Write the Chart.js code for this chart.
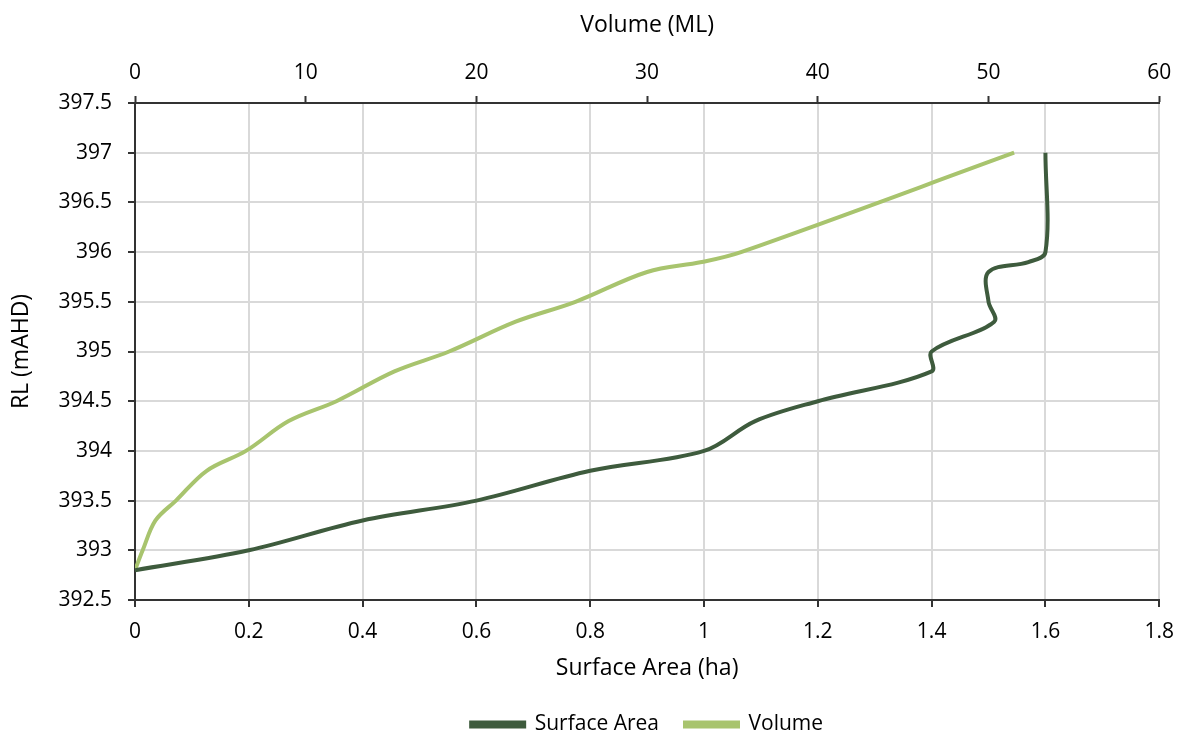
<!DOCTYPE html>
<html>
<head>
<meta charset="utf-8">
<script src="https://cdn.jsdelivr.net/npm/chart.js@4/dist/chart.umd.min.js"></script>
<style>
    html, body { margin: 0; padding: 0; background: #ffffff; }
    canvas { display: block; }
</style>
</head>
<body>
<canvas id="storageChart" width="1186" height="737"></canvas>
<script>
// ==========================================
// DATA
// ==========================================
const rlLevels    = [392.8, 393.0, 393.3, 393.5, 393.8, 394.0, 394.3, 394.5, 394.8, 395.0, 395.3, 395.5, 395.8, 395.9, 396.0, 397.0];
const surfaceArea = [0, 0.2, 0.4, 0.6, 0.8, 1.0, 1.09, 1.2, 1.4, 1.4, 1.51, 1.5, 1.5, 1.57, 1.6, 1.6];
const volume      = [0, 0.45, 1.2, 2.4, 4.2, 6.5, 9.0, 11.8, 15.2, 18.4, 22.3, 25.8, 30.0, 33.2, 35.5, 51.5];

const seriesNames = ['Surface Area', 'Volume'];
const seriesColors = ['#3e5b3d', '#a8c46e'];

const FONT = '"Open Sans", "Noto Sans", sans-serif';

const toPoints = (xs) => xs.map((x, i) => ({ x: x, y: rlLevels[i] }));
// drop trailing zeros the way the original axis labels do (397 not 397.0)
const plainLabel = (value) => String(Number(value.toFixed(2)));

// ==========================================
// CHART
// ==========================================
const ctx = document.getElementById('storageChart').getContext('2d');

new Chart(ctx, {
    type: 'line',
    data: {
        datasets: [
            {
                label: seriesNames[0],
                data: toPoints(surfaceArea),
                xAxisID: 'x',
                borderColor: seriesColors[0],
                backgroundColor: seriesColors[0],
                borderWidth: 4,
                pointRadius: 0,
                tension: 0.35
            },
            {
                label: seriesNames[1],
                data: toPoints(volume),
                xAxisID: 'x2',
                borderColor: seriesColors[1],
                backgroundColor: seriesColors[1],
                borderWidth: 4,
                pointRadius: 0,
                tension: 0.35
            }
        ]
    },
    options: {
        responsive: false,
        animation: false,
        devicePixelRatio: 1,
        layout: { padding: { left: 0, right: 26, top: 0, bottom: -8 } },
        plugins: {
            legend: {
                position: 'bottom',
                fullSize: false,
                labels: {
                    boxWidth: 53,
                    boxHeight: 4,
                    padding: 26,
                    color: '#000',
                    font: { family: FONT, size: 21 }
                }
            },
            tooltip: { enabled: false }
        },
        scales: {
            x: {
                type: 'linear',
                position: 'bottom',
                min: 0,
                max: 1.8,
                ticks: { stepSize: 0.2, color: '#000', padding: 12, callback: plainLabel, font: { family: FONT, size: 21 } },
                grid: { color: '#d9d9d9', lineWidth: 2, tickColor: '#333', tickLength: 7, tickWidth: 2 },
                border: { color: '#333', width: 2 },
                title: { display: true, text: 'Surface Area (ha)', color: '#000', padding: { bottom: 6 }, font: { family: FONT, size: 23 } },
                afterFit: (scale) => { scale.height = 88; }
            },
            x2: {
                type: 'linear',
                position: 'top',
                min: 0,
                max: 60,
                ticks: { stepSize: 10, color: '#000', padding: 10, callback: plainLabel, font: { family: FONT, size: 21 } },
                grid: { drawOnChartArea: false, tickColor: '#333', tickLength: 7, tickWidth: 2 },
                border: { color: '#333', width: 2 },
                title: { display: true, text: 'Volume (ML)', color: '#000', padding: { top: 12 }, font: { family: FONT, size: 23 } },
                afterFit: (scale) => { scale.height = 103; }
            },
            y: {
                type: 'linear',
                min: 392.5,
                max: 397.5,
                ticks: { stepSize: 0.5, color: '#000', padding: 16, callback: plainLabel, font: { family: FONT, size: 21 } },
                grid: { color: '#d9d9d9', lineWidth: 2, tickColor: '#333', tickLength: 7, tickWidth: 2 },
                border: { color: '#333', width: 2 },
                title: { display: true, text: 'RL (mAHD)', color: '#000', padding: { top: 8 }, font: { family: FONT, size: 23 } },
                afterFit: (scale) => { scale.width = 135; }
            }
        }
    }
});
</script>
</body>
</html>
